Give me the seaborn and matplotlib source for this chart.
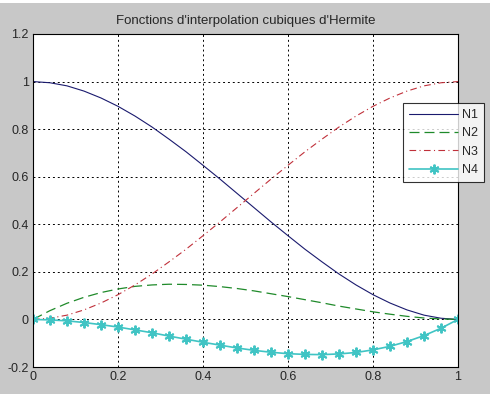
import matplotlib
matplotlib.use("Agg")
import matplotlib.pyplot as plt
import seaborn as sns
import pandas as pd
from matplotlib.patches import Rectangle

# points le long de l'element (pas 0.04)
x = [0.00, 0.04, 0.08, 0.12, 0.16, 0.20, 0.24, 0.28, 0.32, 0.36, 0.40, 0.44, 0.48,
     0.52, 0.56, 0.60, 0.64, 0.68, 0.72, 0.76, 0.80, 0.84, 0.88, 0.92, 0.96, 1.00]

n1 = [1.000, 0.995, 0.982, 0.960, 0.931, 0.896, 0.855, 0.809, 0.758, 0.705, 0.648, 0.590, 0.530,
      0.470, 0.410, 0.352, 0.295, 0.242, 0.191, 0.145, 0.104, 0.069, 0.040, 0.018, 0.005, 0.000]
n2 = [0.000, 0.037, 0.068, 0.093, 0.113, 0.128, 0.139, 0.145, 0.148, 0.147, 0.144, 0.138, 0.130,
      0.120, 0.108, 0.096, 0.083, 0.070, 0.056, 0.044, 0.032, 0.022, 0.013, 0.006, 0.002, 0.000]
n3 = [0.000, 0.005, 0.018, 0.040, 0.069, 0.104, 0.145, 0.191, 0.242, 0.295, 0.352, 0.410, 0.470,
      0.530, 0.590, 0.648, 0.705, 0.758, 0.809, 0.855, 0.896, 0.931, 0.960, 0.982, 0.995, 1.000]
n4 = [0.000, -0.002, -0.006, -0.013, -0.022, -0.032, -0.044, -0.056, -0.070, -0.083, -0.096, -0.108, -0.120,
      -0.130, -0.138, -0.144, -0.147, -0.148, -0.145, -0.139, -0.128, -0.113, -0.093, -0.068, -0.037, 0.000]

df = pd.DataFrame({"x": x, "N1": n1, "N2": n2, "N3": n3, "N4": n4})

sns.set_style("white")
plt.rcParams["font.family"] = ["Liberation Sans", "DejaVu Sans"]

fig = plt.figure(figsize=(4.94, 3.99), dpi=100, facecolor="white")
# fond gris facon fenetre MATLAB
fig.patches.append(Rectangle((0, 5 / 399), 490 / 494, 391 / 399, transform=fig.transFigure,
                             facecolor="#c8c8c8", edgecolor="none", zorder=-10))
ax = fig.add_axes([33 / 494, (399 - 367) / 399, (458 - 33) / 494, (367 - 34) / 399])
ax.set_zorder(1)
ax.set_facecolor("white")

sns.lineplot(data=df, x="x", y="N1", ax=ax, color="#1a1a6e", lw=0.8, label="N1")
sns.lineplot(data=df, x="x", y="N2", ax=ax, color="#1f8a2a", lw=0.9, linestyle=(0, (8, 4)), label="N2")
sns.lineplot(data=df, x="x", y="N3", ax=ax, color="#c0303a", lw=0.8, linestyle=(0, (6, 3, 1, 3)), label="N3")
sns.lineplot(data=df, x="x", y="N4", ax=ax, color="#40c4c4", lw=1.2, marker=(6, 2, 0), markersize=7,
             markeredgewidth=1.4, markeredgecolor="#40c4c4", label="N4")

ax.set_xlim(0, 1)
ax.set_ylim(-0.2, 1.2)
ax.set_xticks([0, 0.2, 0.4, 0.6, 0.8, 1])
ax.set_xticklabels(["0", "0.2", "0.4", "0.6", "0.8", "1"])
ax.set_yticks([-0.2, 0, 0.2, 0.4, 0.6, 0.8, 1, 1.2])
ax.set_yticklabels(["-0.2", "0", "0.2", "0.4", "0.6", "0.8", "1", "1.2"])
ax.tick_params(labelsize=9, length=0, pad=3)
ax.grid(True, color="black", linestyle=(0, (2, 3)), linewidth=0.7)
ax.set_xlabel("")
ax.set_ylabel("")
for s in ax.spines.values():
    s.set_color("black")
    s.set_linewidth(0.8)
ax.set_title("Fonctions d'interpolation cubiques d'Hermite", fontsize=9.5, pad=7)

leg = ax.legend(loc="upper left", bbox_to_anchor=(403 / 494, (399 - 103) / 399),
                bbox_transform=fig.transFigure, fontsize=9, frameon=True, fancybox=False,
                borderpad=0.5, handlelength=3.9, labelspacing=0.5, handletextpad=0.3, borderaxespad=0)
leg.get_frame().set_edgecolor("black")
leg.get_frame().set_linewidth(0.8)

fig.savefig("out.png", dpi=100, facecolor=fig.get_facecolor())
